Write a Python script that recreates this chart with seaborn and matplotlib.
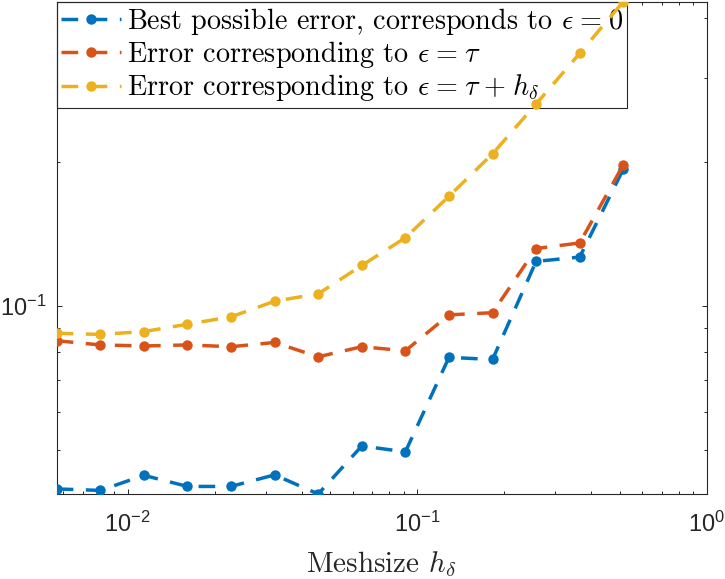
import numpy as np
import pandas as pd
import matplotlib
matplotlib.use("Agg")
import matplotlib.pyplot as plt
from matplotlib.font_manager import FontProperties
from matplotlib.ticker import NullFormatter, LogLocator
import seaborn as sns

# ---- data ----
meshsize = [0.00569, 0.00805, 0.01138, 0.01610, 0.02276, 0.03219, 0.04553,
            0.06438, 0.09105, 0.1288, 0.1821, 0.2575, 0.3642, 0.5150]
err_best = [0.0414, 0.0411, 0.0442, 0.0419, 0.0419, 0.0443, 0.0404,
            0.0509, 0.0495, 0.0780, 0.0772, 0.1238, 0.1264, 0.1929]
err_tau = [0.0845, 0.0828, 0.0824, 0.0828, 0.0821, 0.0838, 0.0782,
           0.0821, 0.0805, 0.0957, 0.0967, 0.1317, 0.1353, 0.1970]
err_tau_h = [0.0876, 0.0871, 0.0883, 0.0915, 0.0948, 0.1022, 0.1059,
             0.1214, 0.1387, 0.1694, 0.2078, 0.2641, 0.3370, 0.4322]

sp = r"\hspace{0.08}"
labels = [r"Best possible error, corresponds to $\epsilon" + sp + "=" + sp + "0$",
          r"Error corresponding to $\epsilon" + sp + "=" + sp + r"\tau$",
          r"Error corresponding to $\epsilon" + sp + "=" + sp + r"\tau" + sp
          + "+" + sp + r"h_\delta$"]
colors = ["#0072BD", "#D95319", "#EDB120"]
xlabel = r"Meshsize $h_\delta$"

plt.rcParams.update({
    "font.family": ["Liberation Sans", "DejaVu Sans"],
    "mathtext.fontset": "custom",
    "mathtext.rm": "Liberation Sans",
    "mathtext.it": "Liberation Sans:italic",
    "mathtext.bf": "Liberation Sans:bold",
})

dark = "#262626"
fig = plt.figure(figsize=(7.25, 5.79), dpi=100)
ax = fig.add_axes([56.7 / 725, 1 - 494 / 579, 650 / 725, 492.3 / 579])

series = [err_best, err_tau, err_tau_h]
for vals, col, lab in zip(series, colors, labels):
    df = pd.DataFrame({"h": meshsize, "err": vals})
    sns.lineplot(data=df, x="h", y="err", ax=ax, color=col, marker="o",
                 markersize=7.5, markeredgewidth=0, markeredgecolor=col,
                 linewidth=2.5, linestyle=(0, (4.8, 3.6)), label=lab,
                 errorbar=None, sort=False, zorder=3)

ax.set_xscale("log")
ax.set_yscale("log")
allv = np.concatenate([np.array(s) for s in series])
ax.set_xlim(min(meshsize), 1.0)
ax.set_ylim(allv.min(), allv.max())

ax.xaxis.set_minor_locator(LogLocator(base=10, subs=np.arange(2, 10), numticks=20))
ax.yaxis.set_minor_locator(LogLocator(base=10, subs=np.arange(2, 10), numticks=20))
ax.xaxis.set_minor_formatter(NullFormatter())
ax.yaxis.set_minor_formatter(NullFormatter())

ax.tick_params(which="both", direction="in", top=True, right=True,
               colors=dark, labelcolor=dark, width=0.7)
ax.tick_params(which="major", length=3.6, labelsize=17, pad=13)
ax.tick_params(which="minor", length=2.2)
ax.tick_params(axis="y", which="major", pad=7)
for s in ax.spines.values():
    s.set_linewidth(0.8)
    s.set_color(dark)

ax.set_ylabel("")
xl_fp = FontProperties(family="cmr10", size=21, math_fontfamily="cm")
ax.set_xlabel(xlabel, fontproperties=xl_fp, color=dark, labelpad=8.5)

lg_fp = FontProperties(family="cmr10", size=20.3, math_fontfamily="cm")
leg = ax.legend(loc="upper left", bbox_to_anchor=(0, 1), borderaxespad=0,
                prop=lg_fp, frameon=True, fancybox=False, framealpha=1,
                edgecolor=dark, handlelength=2.13, handletextpad=0.21,
                borderpad=0.15, labelspacing=0.08)
leg.get_frame().set_linewidth(0.8)
leg.set_zorder(1.5)

fig.savefig("out.png", dpi=100)
